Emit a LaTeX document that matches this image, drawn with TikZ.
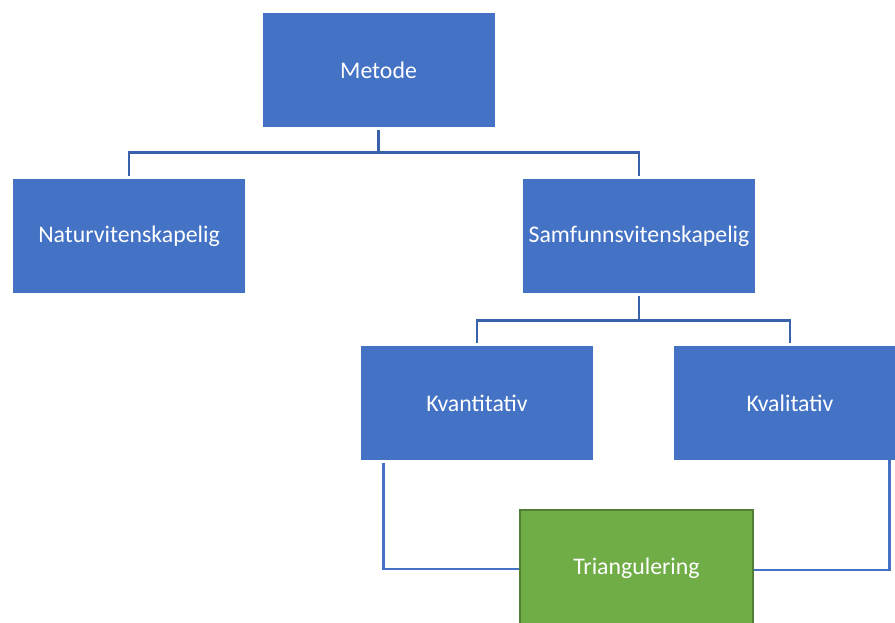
\documentclass[tikz,border=0pt]{standalone}
\usepackage{fontspec}
\setmainfont{Carlito}
\usetikzlibrary{calc}
\definecolor{boxblue}{HTML}{4472C4}
\definecolor{treeline}{HTML}{3A62AA}
\definecolor{linkline}{HTML}{4472C4}
\definecolor{boxgreen}{HTML}{70AD47}
\definecolor{greenedge}{HTML}{507E32}
\tikzset{
  box/.style={rectangle, fill=boxblue, text=white, minimum width=232pt,
    minimum height=114pt, inner sep=0pt, font=\fontsize{23.8}{28}\selectfont},
  greenbox/.style={box, fill=boxgreen, draw=greenedge, line width=2.5pt,
    minimum width=233pt, minimum height=116pt},
  tree/.style={draw=treeline, line width=2.6pt},
  link/.style={draw=linkline, line width=2.6pt}
}
\begin{document}
\begin{tikzpicture}
\useasboundingbox (0pt,0pt) rectangle (895pt,-623pt);
\clip (0pt,0pt) rectangle (895pt,-623pt);
\fill[white] (0pt,0pt) rectangle (895pt,-623pt);

% boxes
\node[box] (metode) at (378.5pt,-70pt) {Metode};
\node[box] (natur) at (129pt,-236pt) {Naturvitenskapelig};
\node[box] (samf) at (639pt,-236pt) {Samfunnsvitenskapelig};
\node[box] (kvant) at (477pt,-403pt) {Kvantitativ};
\node[box] (kval) at (790pt,-403pt) {Kvalitativ};
\node[greenbox] (tri) at (636.5pt,-568pt) {Triangulering};

% hierarchy connectors
\draw[tree] ([yshift=-3pt]metode.south) -- ++(0,-22.5pt) coordinate (mfork)
  -| ([yshift=3pt]natur.north);
\draw[tree] (mfork) -| ([yshift=3pt]samf.north);
\draw[tree] ([yshift=-3pt]samf.south) -- ++(0,-24pt) coordinate (sfork)
  -| ([yshift=3pt]kvant.north);
\draw[tree] (sfork) -| ([yshift=3pt]kval.north);

% links to the triangulation box
\draw[link] ([xshift=-93.5pt,yshift=-3pt]kvant.south) |- ([yshift=-1pt]tri.west);
\draw[link] ([xshift=99.5pt]kval.south) |- ([yshift=-2pt]tri.east);
\end{tikzpicture}
\end{document}
